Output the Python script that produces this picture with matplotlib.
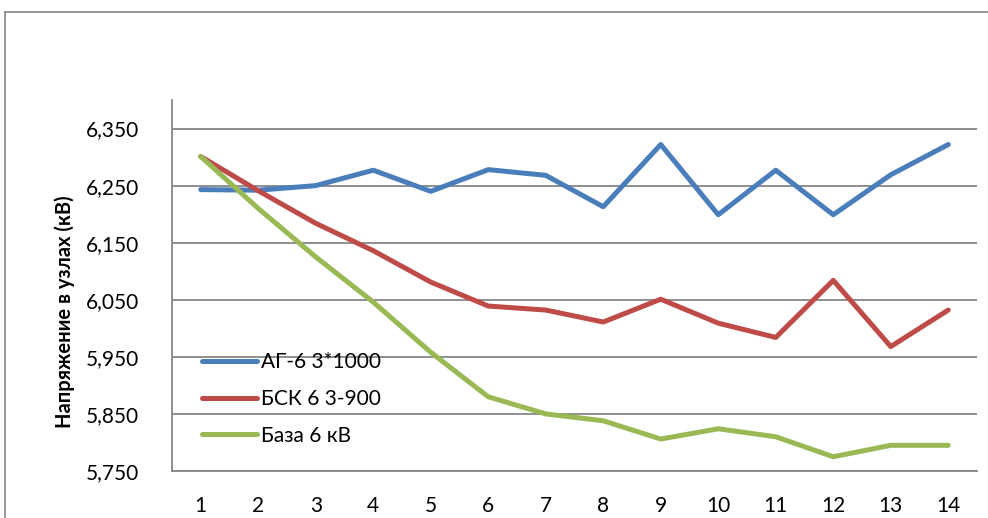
import matplotlib
matplotlib.use("Agg")
import matplotlib.pyplot as plt
from matplotlib.lines import Line2D
from matplotlib.ticker import FuncFormatter

# Node numbers and node voltages (kV) for three network configurations
nodes = list(range(1, 15))
ag6 = [6.243, 6.242, 6.250, 6.277, 6.240, 6.278, 6.268, 6.213,
       6.322, 6.199, 6.277, 6.199, 6.269, 6.322]
bsk6 = [6.301, 6.241, 6.184, 6.136, 6.081, 6.039, 6.032, 6.011,
        6.051, 6.009, 5.984, 6.084, 5.968, 6.032]
base6 = [6.301, 6.210, 6.125, 6.046, 5.958, 5.880, 5.850, 5.838,
         5.806, 5.824, 5.810, 5.775, 5.795, 5.795]

series_names = ["АГ-6 3*1000", "БСК 6 3-900", "База 6 кВ"]
series_colors = ["#4A7EBB", "#BE4B48", "#98B954"]
y_ticks = [5.75, 5.85, 5.95, 6.05, 6.15, 6.25, 6.35]
y_label = "Напряжение в узлах (кВ)"

plt.rcParams["font.family"] = ["Lato", "DejaVu Sans"]

W, H = 988, 518
fig = plt.figure(figsize=(W / 100, H / 100), dpi=100)

# outer chart frame: left and top edges
frame_x, frame_y = 4.5 / W, 1 - 11.5 / H
fig.add_artist(Line2D([frame_x, frame_x], [0, frame_y], transform=fig.transFigure,
                      color="#868686", linewidth=1.2))
fig.add_artist(Line2D([frame_x, 1], [frame_y, frame_y], transform=fig.transFigure,
                      color="#868686", linewidth=1.2))

ax = fig.add_axes([172 / W, 1 - 471 / H, (977 - 172) / W, (471 - 100) / H])

for vals, name, col in zip([ag6, bsk6, base6], series_names, series_colors):
    ax.plot(nodes, vals, color=col, linewidth=3.6, solid_capstyle="round",
            solid_joinstyle="round", label=name, zorder=3)

ax.set_xlim(0.5, 14.5)
ax.set_ylim(5.75, 6.40)
ax.set_xticks(nodes)
ax.set_yticks(y_ticks)
ax.yaxis.set_major_formatter(FuncFormatter(lambda v, p: f"{v:.3f}".replace(".", ",")))
ax.grid(axis="y", color="#868686", linewidth=1.3)
ax.set_axisbelow(True)

for s in ["top", "right"]:
    ax.spines[s].set_visible(False)
for s in ["left", "bottom"]:
    ax.spines[s].set_color("#868686")
    ax.spines[s].set_linewidth(1.3)

ax.tick_params(axis="both", length=0, labelsize=15, colors="black")
ax.tick_params(axis="y", pad=24)
ax.tick_params(axis="x", pad=18)

# axis title, reading bottom-to-top from its start point
fig.text(65 / W, 1 - 428 / H, y_label, rotation=90, rotation_mode="anchor",
         ha="left", va="center", fontsize=14.5, fontweight="bold")

ax.legend(loc="center left", bbox_to_anchor=(202 / W, 1 - 399 / H),
          bbox_transform=fig.transFigure, frameon=False, fontsize=15,
          handlelength=2.65, handletextpad=0.2, labelspacing=0.8,
          borderpad=0, borderaxespad=0)

fig.savefig("out.png", dpi=100)
